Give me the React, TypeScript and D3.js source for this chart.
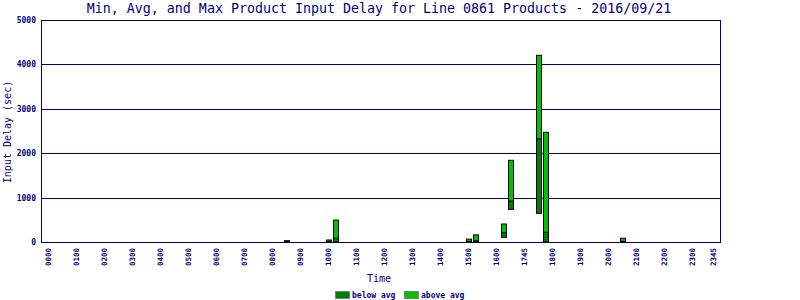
import React from "react";
import * as d3 from "d3";

const titleText = "Min, Avg, and Max Product Input Delay for Line 0861 Products - 2016/09/21";
const yTitle = "Input Delay (sec)";
const xTitle = "Time";

// 96 fifteen-minute slots
const slots: string[] = [];
for (let h = 0; h < 24; h++) for (const m of ["00", "15", "30", "45"]) slots.push(String(h).padStart(2, "0") + m);

const tickSlots = ["0000","0100","0200","0300","0400","0500","0600","0700","0800","0900","1000","1100","1200","1300","1400","1500","1600","1700","1800","1900","2000","2100","2200","2300","2345"];
const tickLabels = ["0000","0100","0200","0300","0400","0500","0600","0700","0800","0900","1000","1100","1200","1300","1400","1500","1600","1745","1800","1900","2000","2100","2200","2300","2345"];

const yTicks = [0, 1000, 2000, 3000, 4000, 5000];

const barSlots = ["0830", "1000", "1015", "1500", "1515", "1615", "1630", "1730", "1745", "2030"];
const minVals = [0, 0, 0, 0, 0, 105, 736, 646, 0, 0];
const avgVals = [15, 10, 85, 15, 25, 210, 923, 2327, 218, 15];
const maxVals = [30, 45, 495, 65, 160, 405, 1840, 4205, 2470, 85];

const legendLabels = ["below avg", "above avg"];
const colors = ["#008000", "#00c000"];

const NAVY = "#000080";
const MONO = "'DejaVu Sans Mono', 'Liberation Mono', monospace";

export default function App() {
  const left = 41, right = 720, top = 20, bottom = 242;
  const x = d3.scaleBand<string>().domain(slots).range([left, right]).paddingInner(0).paddingOuter(0.5);
  const y = d3.scaleLinear().domain([0, 5000]).range([bottom, top]);
  const cx = (s: string) => (x(s) as number) + x.bandwidth() / 2;
  const bw = 5;

  return (
    <svg width={800} height={300} style={{ position: "absolute", left: 0, top: 0, background: "#fff" }}>
      <rect x={0} y={0} width={800} height={300} fill="#fff" />
      <text x={379} y={13} textAnchor="middle" fontFamily={MONO} fontSize={13.3} fill={NAVY}>{titleText}</text>

      {yTicks.map((t) => (
        <g key={t}>
          <line x1={left} x2={right} y1={Math.round(y(t)) + 0.5} y2={Math.round(y(t)) + 0.5} stroke={NAVY} strokeWidth={1} shapeRendering="crispEdges" />
          <text x={36} y={Math.round(y(t)) + 3} textAnchor="end" fontFamily={MONO} fontWeight="bold" fontSize={8} fill={NAVY}>{t}</text>
        </g>
      ))}
      <line x1={left + 0.5} x2={left + 0.5} y1={top} y2={bottom + 1} stroke={NAVY} shapeRendering="crispEdges" />
      <line x1={right + 0.5} x2={right + 0.5} y1={top} y2={bottom + 1} stroke={NAVY} shapeRendering="crispEdges" />

      {barSlots.map((s, i) => {
        const c = cx(s) + 1;
        const yMin = y(minVals[i]);
        const yAvg = y(avgVals[i]);
        const yMax = y(maxVals[i]);
        return (
          <g key={s}>
            <rect x={c - bw / 2} y={yAvg} width={bw} height={Math.max(0, yMin - yAvg)} fill={colors[0]} stroke="#000" strokeWidth={1} />
            <rect x={c - bw / 2} y={yMax} width={bw} height={Math.max(0, yAvg - yMax)} fill={colors[1]} stroke="#000" strokeWidth={1} />
          </g>
        );
      })}

      {tickSlots.map((s, i) => (
        <text key={s} transform={`translate(${cx(s) + 3},248) rotate(-90)`} textAnchor="end" fontFamily={MONO} fontWeight="bold" fontSize={7.5} fill={NAVY}>{tickLabels[i]}</text>
      ))}

      <text x={379} y={282} textAnchor="middle" fontFamily={MONO} fontSize={10} fill={NAVY}>{xTitle}</text>
      <text transform={`translate(11,132) rotate(-90)`} textAnchor="middle" fontFamily={MONO} fontSize={10} fill={NAVY}>{yTitle}</text>

      {legendLabels.map((l, i) => {
        const lx = i === 0 ? 335 : 404;
        return (
          <g key={l}>
            <rect x={lx + 0.5} y={291.5} width={14} height={7} fill={colors[i]} stroke="#808080" strokeWidth={1} />
            <text x={lx + 17} y={298} fontFamily={MONO} fontWeight="bold" fontSize={8} fill={NAVY}>{l}</text>
          </g>
        );
      })}
    </svg>
  );
}
